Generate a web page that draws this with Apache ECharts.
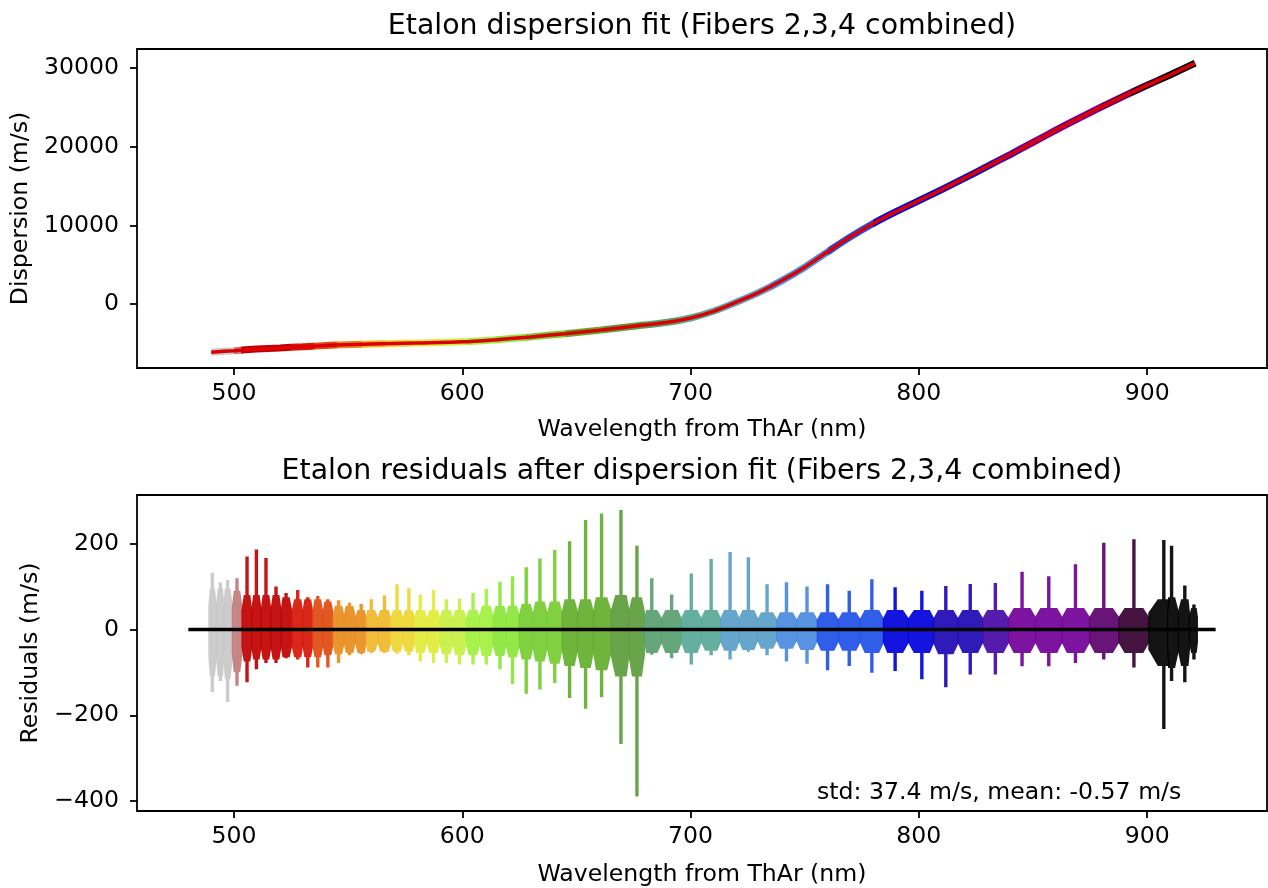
<!DOCTYPE html>
<html>
<head>
<meta charset="utf-8">
<title>Etalon dispersion fit</title>
<script src="https://cdn.jsdelivr.net/npm/echarts@6/dist/echarts.min.js"></script>
<style>
html, body { margin: 0; padding: 0; background: #fff; }
#main { width: 1268px; height: 888px; }
</style>
</head>
<body>
<div id="main"></div>
<script>
// top panel: dispersion curve
const dispWl = [490, 500, 510, 520, 530, 542, 560, 580, 600, 615, 630, 645, 660, 675, 690, 700,
  710, 720, 730, 740, 750, 760, 770, 780, 790, 800, 810, 820, 830, 840, 850, 860, 870, 880, 890, 900, 910, 921];
const dispVal = [-6100, -5900, -5700, -5550, -5400, -5200, -5050, -4920, -4780, -4500, -4150, -3750, -3300, -2800, -2300, -1750,
  -900, 250, 1500, 3000, 4700, 6650, 8550, 10250, 11750, 13150, 14550, 16000, 17500, 19000, 20550, 22100, 23600, 25050, 26450, 27800, 29100, 30600];

// bottom panel: one entry per echelle order (spike extremes and dense body)
const orderWl = [490.5, 494, 497.2, 501.3, 505.7, 509.8, 514, 518.4, 522.8, 527.9, 532.3, 536.7, 541.1, 545.8, 550.6,
  555.7, 560.1, 565.9, 571.4, 576.6, 581.6, 587.4, 593, 598.8, 604.7, 610.5, 616.5, 622, 628, 634, 640.5, 647, 654,
  661, 669.5, 676.5, 683, 691.7, 700.3, 709, 717.3, 725.3, 733.5, 742, 751, 760, 769.5, 779.4, 789.6, 801.3, 811.8,
  822.5, 833.5, 845.2, 856.9, 868.6, 881, 894.2, 907.3, 910.7, 916.5, 920.5];
const spikeHi = [132, 110, 115, 119, 170, 186, 166, 100, 85, 92, 75, 78, 70, 68, 62,
  60, 70, 79, 105, 96, 81, 92, 70, 72, 85, 94, 111, 124, 145, 165, 185, 205, 255,
  270, 278, 195, 119, 81, 130, 164, 180, 168, 105, 110, 100, 105, 90, 117, 98, 90, 101,
  106, 108, 134, 124, 152, 202, 210, 208, 195, 102, 58];
const spikeLo = [-146, -120, -169, -131, -123, -93, -78, -78, -67, -70, -89, -89, -89, -78, -60,
  -58, -55, -55, -57, -60, -74, -78, -78, -82, -82, -82, -93, -127, -150, -140, -125, -160, -185,
  -158, -267, -389, -59, -67, -82, -60, -70, -52, -60, -75, -80, -95, -85, -101, -97, -116, -135,
  -105, -105, -86, -86, -78, -70, -89, -232, -120, -123, -70];
const bodyHi = [95, 95, 95, 90, 80, 80, 80, 80, 75, 70, 70, 70, 65, 55, 55,
  45, 45, 45, 45, 45, 45, 45, 45, 45, 45, 55, 55, 55, 60, 65, 65, 70, 70,
  75, 80, 75, 45, 45, 45, 45, 45, 45, 40, 40, 40, 40, 40, 45, 45, 45, 45,
  45, 45, 50, 50, 50, 50, 50, 70, 75, 70, 50];
const bodyLo = [-110, -110, -115, -100, -75, -70, -70, -70, -65, -65, -65, -65, -60, -58, -55,
  -55, -52, -52, -52, -52, -55, -55, -58, -60, -60, -62, -62, -65, -70, -75, -80, -85, -90,
  -95, -110, -110, -55, -55, -55, -50, -50, -48, -45, -45, -48, -50, -50, -55, -55, -55, -58,
  -55, -55, -55, -55, -55, -55, -55, -85, -90, -85, -55];

const zeroLineWl = [480, 930];
const xTicks = [500, 600, 700, 800, 900];
const dispTicks = [0, 10000, 20000, 30000];
const residTicks = [-400, -200, 0, 200];
const statsText = 'std: 37.4 m/s, mean: -0.57 m/s';

const font = 'DejaVu Sans';
const textStyle = { fontFamily: font, fontSize: 23.6, color: '#000' };
const minus = v => String(v).replace('-', '\u2212');

function xAxisFor (gridIndex, gap) {
  return {
    gridIndex: gridIndex,
    type: 'value',
    min: 457.5,
    max: 952.5,
    axisLine: { show: false, onZero: false },
    splitLine: { show: false },
    axisTick: { length: 7, customValues: xTicks, lineStyle: { color: '#000', width: 1.8 } },
    axisLabel: Object.assign({ customValues: xTicks, margin: 14 }, textStyle),
    name: 'Wavelength from ThAr (nm)',
    nameLocation: 'middle',
    nameGap: gap,
    nameTextStyle: textStyle
  };
}

function yAxisFor (gridIndex, min, max, ticks, name, gap) {
  return {
    gridIndex: gridIndex,
    type: 'value',
    min: min,
    max: max,
    axisLine: { show: false, onZero: false },
    splitLine: { show: false },
    axisTick: { length: 7, customValues: ticks, lineStyle: { color: '#000', width: 1.8 } },
    axisLabel: Object.assign({ customValues: ticks, margin: 18, formatter: minus }, textStyle),
    name: name,
    nameLocation: 'middle',
    nameGap: gap,
    nameTextStyle: textStyle
  };
}

// one order = dense body bump with a narrow spike in the middle
function renderOrder (params, api) {
  const i = params.dataIndex;
  const wl = api.value(0);
  const left = i > 0 ? (orderWl[i - 1] + wl) / 2 : wl - 1.5;
  const right = i < orderWl.length - 1 ? (orderWl[i + 1] + wl) / 2 : wl + 1.5;
  const xc = api.coord([wl, 0])[0];
  const xl = api.coord([left, 0])[0] - 0.6;
  const xr = api.coord([right, 0])[0] + 0.6;
  const y = v => api.coord([wl, v])[1];
  const hi = api.value(1), lo = api.value(2), bh = api.value(3), bl = api.value(4);
  const hw = 1.7;
  const sw = (xr - xl) * 0.3;
  const pts = [
    [xl, y(bh * 0.55)], [xc - sw, y(bh)], [xc - hw, y(bh)], [xc - hw, y(hi)], [xc + hw, y(hi)],
    [xc + hw, y(bh)], [xc + sw, y(bh)], [xr, y(bh * 0.55)],
    [xr, y(bl * 0.55)], [xc + sw, y(bl)], [xc + hw, y(bl)], [xc + hw, y(lo)], [xc - hw, y(lo)],
    [xc - hw, y(bl)], [xc - sw, y(bl)], [xl, y(bl * 0.55)]
  ];
  return {
    type: 'polygon',
    shape: { points: pts },
    style: { fill: api.visual('color'), opacity: 0.92 }
  };
}

let option = {
  animation: false,
  backgroundColor: '#fff',
  title: [
    {
      text: 'Etalon dispersion fit (Fibers 2,3,4 combined)',
      left: 702, top: 13, textAlign: 'center', padding: 0,
      textStyle: { fontFamily: font, fontSize: 28.4, fontWeight: 'normal', color: '#000' }
    },
    {
      text: 'Etalon residuals after dispersion fit (Fibers 2,3,4 combined)',
      left: 702, top: 458, textAlign: 'center', padding: 0,
      textStyle: { fontFamily: font, fontSize: 28.4, fontWeight: 'normal', color: '#000' }
    }
  ],
  grid: [
    { left: 137, right: 1, top: 49, height: 319, show: true, borderColor: '#000', borderWidth: 1.8, backgroundColor: 'transparent' },
    { left: 137, right: 1, top: 495, height: 320, show: true, borderColor: '#000', borderWidth: 1.8, backgroundColor: 'transparent' }
  ],
  xAxis: [xAxisFor(0, 50), xAxisFor(1, 52)],
  yAxis: [
    yAxisFor(0, -8100, 32400, dispTicks, 'Dispersion (m/s)', 100),
    yAxisFor(1, -423, 313, residTicks, 'Residuals (m/s)', 89)
  ],
  visualMap: {
    type: 'piecewise',
    show: false,
    dimension: 0,
    seriesIndex: [0, 2],
    pieces: [
      { lt: 500, color: '#c8c8c8' },
      { gte: 500, lt: 503, color: '#c27c7c' },
      { gte: 503, lt: 525, color: '#bf0000' },
      { gte: 525, lt: 535, color: '#d61606' },
      { gte: 535, lt: 545, color: '#e04a10' },
      { gte: 545, lt: 556, color: '#e88c1c' },
      { gte: 556, lt: 566, color: '#efb628' },
      { gte: 566, lt: 578, color: '#efd630' },
      { gte: 578, lt: 590, color: '#e2ec38' },
      { gte: 590, lt: 602, color: '#c6f040' },
      { gte: 602, lt: 614, color: '#a2f03e' },
      { gte: 614, lt: 628, color: '#8ae638' },
      { gte: 628, lt: 645, color: '#76cc30' },
      { gte: 645, lt: 662, color: '#62ae2c' },
      { gte: 662, lt: 680, color: '#5c9c3c' },
      { gte: 680, lt: 695, color: '#58a070' },
      { gte: 695, lt: 715, color: '#58a898' },
      { gte: 715, lt: 735, color: '#5a9ec8' },
      { gte: 735, lt: 760, color: '#4a8ae0' },
      { gte: 760, lt: 780, color: '#2050e6' },
      { gte: 780, lt: 810, color: '#0000dc' },
      { gte: 810, lt: 832, color: '#1c08b4' },
      { gte: 832, lt: 845, color: '#4608a6' },
      { gte: 845, lt: 880, color: '#720098' },
      { gte: 880, lt: 893, color: '#5c006c' },
      { gte: 893, lt: 905, color: '#360030' },
      { gte: 905, color: '#000000' }
    ]
  },
  graphic: [
    {
      type: 'text',
      left: 817,
      top: 781,
      style: { text: statsText, font: '23.6px "DejaVu Sans"', fill: '#000' }
    }
  ],
  series: [
    {
      name: 'measured',
      type: 'line',
      xAxisIndex: 0, yAxisIndex: 0,
      data: dispWl.map((w, i) => [w, dispVal[i]]),
      smooth: 0.3,
      showSymbol: false,
      lineStyle: { width: 7 },
      z: 2
    },
    {
      name: 'fit',
      type: 'line',
      xAxisIndex: 0, yAxisIndex: 0,
      data: dispWl.map((w, i) => [w, dispVal[i]]),
      smooth: 0.3,
      showSymbol: false,
      lineStyle: { width: 3.5, color: '#dd0000' },
      itemStyle: { color: '#dd0000' },
      z: 3
    },
    {
      name: 'residuals',
      type: 'custom',
      xAxisIndex: 1, yAxisIndex: 1,
      renderItem: renderOrder,
      encode: { x: 0, y: [1, 2] },
      data: orderWl.map((w, i) => [w, spikeHi[i], spikeLo[i], bodyHi[i], bodyLo[i]]),
      z: 2
    },
    {
      name: 'zero',
      type: 'line',
      xAxisIndex: 1, yAxisIndex: 1,
      data: zeroLineWl.map(w => [w, 0]),
      showSymbol: false,
      lineStyle: { width: 3.5, color: '#000' },
      itemStyle: { color: '#000' },
      z: 5
    }
  ]
};

let myChart = echarts.init(document.getElementById('main'));
myChart.setOption(option);
</script>
</body>
</html>
